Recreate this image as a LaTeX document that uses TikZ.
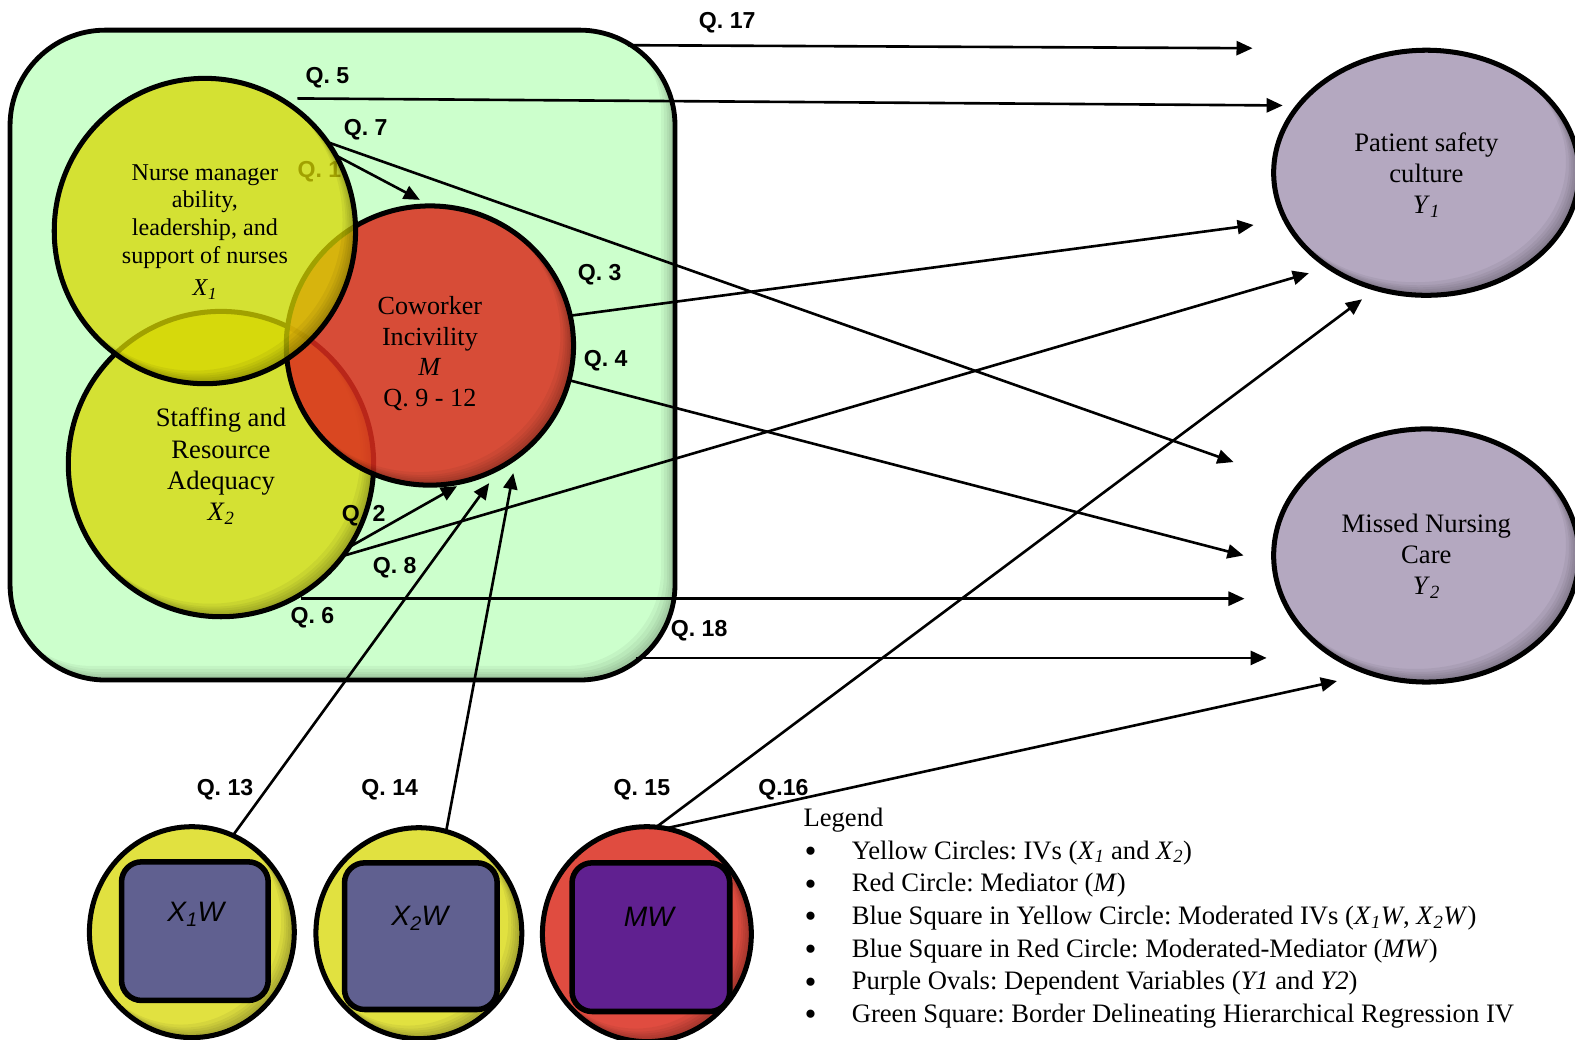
\documentclass[tikz,border=0pt]{standalone}
\usepackage{fontspec}
\setmainfont{Liberation Serif}
\setsansfont{Liberation Sans}
\usetikzlibrary{shapes.geometric,arrows.meta}
\definecolor{boxgreen}{RGB}{204,255,204}
\definecolor{ivyellow}{RGB}{215,215,0}
\definecolor{medred}{RGB}{218,45,30}
\definecolor{dvpurple}{RGB}{180,168,192}
\definecolor{sqblue}{RGB}{96,96,144}
\definecolor{sqpurple}{RGB}{96,32,144}
\newcommand\mysub[1]{\textsubscript{#1}}
\newcommand\itsub[2]{\textit{#1}\textsubscript{\textit{#2}}}
\newcommand\lgbullet{\hspace{1pt}\raisebox{-3.5pt}{\fontsize{34}{34}\selectfont\textbullet}}
% soft inner shadow along the lower right rim of an ellipse
\newcommand\rimshade[3]{%
  \begin{scope}
    \clip (#1) ellipse [x radius=#2, y radius=#3];
    \foreach \s in {2,4,6,8,11}
      \fill[black, opacity=0.05, even odd rule]
        ([shift={(-400,-400)}]#1) rectangle ([shift={(400,400)}]#1)
        ([shift={(-\s,-\s)}]#1) ellipse [x radius=#2, y radius=#3];
  \end{scope}}
\frenchspacing
\begin{document}
\begin{tikzpicture}[x=1pt,y=-1pt,
  every node/.style={inner sep=0pt, outer sep=0pt},
  greenbox/.style={rectangle, rounded corners=95pt, draw=black, line width=4.8pt},
  ivcirc/.style={ellipse, draw=black, line width=5pt, fill=ivyellow, fill opacity=0.75, draw opacity=1, text opacity=1, align=center},
  medcirc/.style={ellipse, draw=black, line width=5pt, fill=medred, fill opacity=0.85, draw opacity=1, text opacity=1, align=center},
  dvoval/.style={ellipse, draw=black, line width=5pt, align=center, font=\fontsize{26.5}{31}\selectfont},
  modsq/.style={rectangle, rounded corners=20pt, draw=black, line width=5.5pt},
  sqtext/.style={font=\sffamily\itshape\fontsize{28}{28}\selectfont},
  bodytext/.style={align=center},
  qlab/.style={font=\sffamily\bfseries\fontsize{23}{23}\selectfont, yshift=-2.5pt},
  arr/.style={-{Triangle[length=16pt,width=14pt]}, line width=2.6pt},
]
\useasboundingbox (0,0) rectangle (1568,1035);

% green border box with soft inner shadow
\fill[boxgreen, rounded corners=95pt] (10,30) rectangle (672,677);
\begin{scope}
  \clip[rounded corners=95pt] (10,30) rectangle (672,677);
  \foreach \s in {2,4,6,8,11,14}
    \fill[black, opacity=0.045, even odd rule] (-100,-100) rectangle (900,900)
      [rounded corners=95pt] (10-\s,30-\s) rectangle (672-\s,677-\s);
\end{scope}
\node[greenbox, minimum width=662pt, minimum height=647pt] (box) at (341,353.5) {};

% Q.1 label lies beneath the X1 circle
\node[qlab] (q1) at (318,168) {Q. 1};

% circles of the IVs and mediator
\node[ivcirc, minimum width=304pt, minimum height=304pt] (X2) at (220,462) {};
\rimshade{X2.center}{150}{150}
\node[bodytext, font=\fontsize{26.5}{31}\selectfont] (X2t) at (220,464)
  {Staffing and\\Resource\\Adequacy\\\itsub{X}{2}};
\node[medcirc, minimum width=286pt, minimum height=278pt] (M) at (428,344) {};
\rimshade{M.center}{141}{137}
\node[bodytext, font=\fontsize{26}{30.5}\selectfont] (Mt) at (428,352)
  {Coworker\\Incivility\\\textit{M}\\Q. 9 - 12};
\node[ivcirc, minimum width=300pt, minimum height=304pt] (X1) at (204,230) {};
\rimshade{X1.center}{148}{150}
\node[bodytext, font=\fontsize{24}{27.5}\selectfont] (X1t) at (204,231)
  {Nurse manager\\ability,\\leadership, and\\support of nurses\\[5pt]\itsub{X}{1}};

% dependent variables
\fill[dvpurple] (1420,172) ellipse [x radius=152, y radius=122];
\rimshade{1420,172}{150}{120}
\node[dvoval, minimum width=304pt, minimum height=244pt] (Y1) at (1420,172) {};
\node[bodytext, font=\fontsize{26.5}{31}\selectfont] (Y1t) at (1420,174)
  {Patient safety\\culture\\\itsub{Y}{1}};
\fill[dvpurple] (1420,553) ellipse [x radius=152, y radius=126];
\rimshade{1420,553}{150}{124}
\node[dvoval, minimum width=304pt, minimum height=252pt] (Y2) at (1420,553) {};
\node[bodytext, font=\fontsize{26.5}{31}\selectfont] (Y2t) at (1420,554)
  {Missed Nursing\\Care\\\itsub{Y}{2}};

% moderated terms
\node[ivcirc, minimum width=204pt, minimum height=210pt] (c1) at (191,928) {};
\rimshade{c1.center}{100}{103}
\node[ivcirc, minimum width=205pt, minimum height=210pt] (c2) at (417,929) {};
\rimshade{c2.center}{100}{103}
\node[medcirc, minimum width=208pt, minimum height=214pt] (c3) at (644,930) {};
\rimshade{c3.center}{102}{105}
\node[modsq, fill=sqblue, minimum width=146pt, minimum height=138pt] (s1) at (194,927) {};
\node[modsq, fill=sqblue, minimum width=152pt, minimum height=146pt] (s2) at (419,932) {};
\node[modsq, fill=sqpurple, minimum width=157pt, minimum height=148pt] (s3) at (648,933) {};
\node[sqtext] (t1) at (195,910) {X\mysub{1}W};
\node[sqtext] (t2) at (418,914) {X\mysub{2}W};
\node[sqtext] (t3) at (646,913) {MW};

% free ends of connectors
\coordinate (q17s) at (625,45);
\coordinate (q17e) at (1247,48);
\coordinate (q5s) at (296,98);
\coordinate (q5e) at (1277,105);
\coordinate (q7e) at (1228,460);
\coordinate (q1e) at (418,199);
\coordinate (q3e) at (1248,224);
\coordinate (q4e) at (1238,553);
\coordinate (q2e) at (455,484);
\coordinate (q8e) at (1303,272);
\coordinate (q6s) at (300,596);
\coordinate (q6e) at (1239,596);
\coordinate (q18s) at (633,655);
\coordinate (q18e) at (1261,655);
\coordinate (q13e) at (487,481);
\coordinate (q14e) at (511,471);
\coordinate (q15e) at (1356,298);
\coordinate (q16e) at (1331,678);

% connectors
\draw[arr] (q17s) -- (q17e);
\draw[arr] (q5s) -- (q5e);
\draw[arr] (X1.36) -- (q7e);
\draw[arr] (X1.30) -- (q1e);
\draw[arr] (M.12) -- (q3e);
\draw[arr] (M.-14) -- (q4e);
\draw[arr] (X2.-33) -- (q2e);
\draw[arr] (X2.-37) -- (q8e);
\draw[arr] (q6s) -- (q6e);
\draw[arr] (q18s) -- (q18e);
\draw[arr] (c1.67) -- (q13e);
\draw[arr] (c2.75) -- (q14e);
\draw[arr] (c3.85) -- (q15e);
\draw[arr] (c3.80) -- (q16e);

% connector labels
\node[qlab] (q17) at (724,20) {Q. 17};
\node[qlab] (q5) at (326,75) {Q. 5};
\node[qlab] (q7) at (364,127) {Q. 7};
\node[qlab] (q3) at (597,271) {Q. 3};
\node[qlab] (q4) at (603,357) {Q. 4};
\node[qlab] (q2) at (362,511) {Q. 2};
\node[qlab] (q8) at (393,563) {Q. 8};
\node[qlab] (q6) at (311,612) {Q. 6};
\node[qlab] (q18) at (696,625) {Q. 18};
\node[qlab] (q13) at (224,784) {Q. 13};
\node[qlab] (q14) at (388,784) {Q. 14};
\node[qlab] (q15) at (639,784) {Q. 15};
\node[qlab] (q16) at (780,784) {Q.16};

% legend
\node[anchor=north west, font=\fontsize{26.5}{32.5}\selectfont] (legend) at (800,800)
{\begin{tabular}{@{}p{48pt}@{}l@{}}
\multicolumn{2}{@{}l@{}}{Legend}\\
\lgbullet & Yellow Circles: IVs (\itsub{X}{1} and \itsub{X}{2})\\
\lgbullet & Red Circle: Mediator (\textit{M})\\
\lgbullet & Blue Square in Yellow Circle: Moderated IVs (\itsub{X}{1}\textit{W}, \itsub{X}{2}\textit{W})\\
\lgbullet & Blue Square in Red Circle: Moderated-Mediator (\textit{MW})\\
\lgbullet & Purple Ovals: Dependent Variables (\textit{Y1} and \textit{Y2})\\
\lgbullet & Green Square: Border Delineating Hierarchical Regression IV
\end{tabular}};
\end{tikzpicture}
\end{document}
